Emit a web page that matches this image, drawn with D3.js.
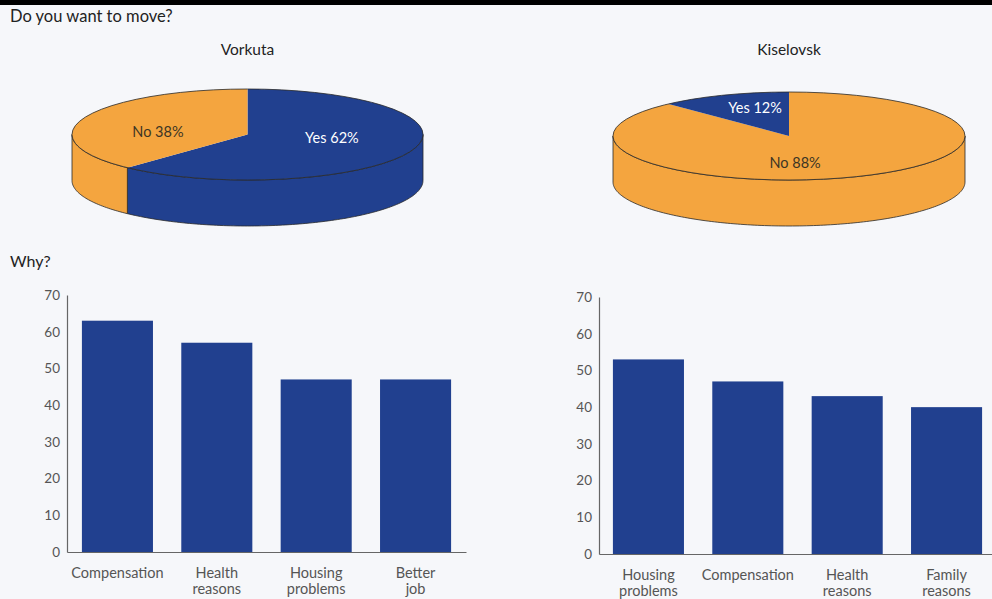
<!DOCTYPE html>
<html>
<head>
<meta charset="utf-8">
<script src="https://cdn.jsdelivr.net/npm/d3@7/dist/d3.min.js"></script>
<style>
  html, body { margin: 0; padding: 0; background: #f6f7fa; }
  svg { display: block; font-family: Lato, "Open Sans", sans-serif; }
</style>
</head>
<body>
<svg id="chart" width="992" height="599"></svg>
<script>
// Survey answers: "Do you want to move?"
const vorkutaAnswers = ["Yes", "No"];
const vorkutaShares = [62, 38];
const kiselovskAnswers = ["No", "Yes"];
const kiselovskShares = [88, 12];

// "Why?" — reasons given, percent
const vorkutaReasons = ["Compensation", "Health reasons", "Housing problems", "Better job"];
const vorkutaReasonValues = [63, 57, 47, 47];
const kiselovskReasons = ["Housing problems", "Compensation", "Health reasons", "Family reasons"];
const kiselovskReasonValues = [53, 47, 43, 40];

const yTicks = [0, 10, 20, 30, 40, 50, 60, 70];

const BLUE = "#21408f";
const ORANGE = "#f4a53f";
const answerColor = { Yes: BLUE, No: ORANGE };
const answerText = { Yes: "#ffffff", No: "#3d3524" };

const svg = d3.select("#chart");

// black rule across the top
svg.append("rect").attr("x", 0).attr("y", 0).attr("width", 992).attr("height", 5).attr("fill", "#000");

svg.append("text").attr("x", 10).attr("y", 22).attr("font-size", 16.5).attr("fill", "#222")
  .text("Do you want to move?");
svg.append("text").attr("x", 10).attr("y", 267).attr("font-size", 16).attr("fill", "#222")
  .text("Why?");

// ---------- 3D pies ----------
function ellipsePoint(p, a, dy) {
  return [p.cx + p.rx * Math.sin(a), p.cy - p.ry * Math.cos(a) + (dy || 0)];
}
function arcPoints(p, a0, a1, dy) {
  const n = Math.max(2, Math.ceil(Math.abs(a1 - a0) / 0.02));
  const pts = [];
  for (let i = 0; i <= n; i++) pts.push(ellipsePoint(p, a0 + (a1 - a0) * i / n, dy));
  return pts;
}
const line = d3.line();

function drawPie(p, answers, shares, title, labelSpots) {
  const g = svg.append("g");
  g.append("text").attr("x", p.cx).attr("y", 55).attr("text-anchor", "middle")
    .attr("font-size", 15.5).attr("fill", "#222").text(title);

  const slices = d3.pie().sort(null).value(d => d.v)(answers.map((k, i) => ({ k, v: shares[i] })));

  // front wall (visible between 90° and 270°, angles clockwise from 12 o'clock)
  slices.forEach(s => {
    const a0 = Math.max(s.startAngle, Math.PI / 2);
    const a1 = Math.min(s.endAngle, Math.PI * 3 / 2);
    if (a1 <= a0) return;
    const top = arcPoints(p, a0, a1, 0);
    const bottom = arcPoints(p, a1, a0, p.depth);
    g.append("path").attr("d", line(top.concat(bottom)) + "Z")
      .attr("fill", answerColor[s.data.k]).attr("stroke", "#2a2a2a").attr("stroke-width", 0.8)
      .attr("stroke-linejoin", "round");
  });

  // top surface
  slices.forEach(s => {
    const pts = [[p.cx, p.cy]].concat(arcPoints(p, s.startAngle, s.endAngle, 0));
    g.append("path").attr("d", line(pts) + "Z")
      .attr("fill", answerColor[s.data.k]);
  });
  // rim outline of the top surface
  g.append("ellipse").attr("cx", p.cx).attr("cy", p.cy).attr("rx", p.rx).attr("ry", p.ry)
    .attr("fill", "none").attr("stroke", "#2a2a2a").attr("stroke-width", 0.8);

  // labels: placed along each slice (t = fraction of its sweep, r = fraction of radius)
  slices.forEach(s => {
    const spot = labelSpots[s.data.k];
    const a = s.startAngle + (s.endAngle - s.startAngle) * spot.t;
    const x = p.cx + p.rx * spot.r * Math.sin(a);
    const y = p.cy - p.ry * spot.r * Math.cos(a);
    g.append("text").attr("x", x).attr("y", y + 5).attr("text-anchor", "middle")
      .attr("font-size", 14.5).attr("fill", answerText[s.data.k])
      .text(`${s.data.k} ${s.data.v}%`);
  });
}

drawPie({ cx: 247.5, cy: 134.5, rx: 175.5, ry: 45.5, depth: 46 },
  vorkutaAnswers, vorkutaShares, "Vorkuta",
  { Yes: { t: 0.444, r: 0.487 }, No: { t: 0.386, r: 0.513 } });
drawPie({ cx: 789, cy: 136, rx: 176, ry: 44, depth: 46 },
  kiselovskAnswers, kiselovskShares, "Kiselovsk",
  { No: { t: 0.558, r: 0.615 }, Yes: { t: 0.61, r: 0.665 } });

// ---------- bar charts ----------
function drawBars(cfg, reasons, values) {
  const g = svg.append("g");
  const x = d3.scaleBand().domain(reasons).range([cfg.x0, cfg.x1])
    .paddingInner(0.285).paddingOuter(cfg.outer);
  const y = d3.scaleLinear().domain([0, 70]).range([cfg.y0, cfg.y1]);

  g.selectAll("rect.bar").data(reasons).join("rect").attr("class", "bar")
    .attr("x", d => x(d)).attr("width", x.bandwidth())
    .attr("y", (d, i) => y(values[i])).attr("height", (d, i) => y(0) - y(values[i]))
    .attr("fill", BLUE);

  const yAxis = g.append("g").attr("transform", `translate(${cfg.x0},0)`)
    .call(d3.axisLeft(y).tickValues(yTicks).tickSize(0).tickPadding(7).tickSizeOuter(0));
  yAxis.select(".domain").attr("stroke", "#666").attr("stroke-width", 1.2);
  yAxis.selectAll("text").attr("font-size", 13.5).attr("fill", "#555")
    .attr("font-family", "Lato, 'Open Sans', sans-serif");

  const xAxis = g.append("g").attr("transform", `translate(0,${cfg.y0})`)
    .call(d3.axisBottom(x).tickSize(0).tickSizeOuter(0).tickFormat(""));
  xAxis.select(".domain").attr("stroke", "#666").attr("stroke-width", 1.2);

  reasons.forEach(r => {
    const words = r.split(" ");
    const t = g.append("text").attr("x", x(r) + x.bandwidth() / 2).attr("y", cfg.y0 + 26)
      .attr("text-anchor", "middle").attr("font-size", 14.5).attr("fill", "#555");
    words.forEach((w, i) => {
      t.append("tspan").attr("x", x(r) + x.bandwidth() / 2).attr("dy", i === 0 ? 0 : 16).text(w);
    });
  });
}

drawBars({ x0: 67, x1: 466, y0: 552, y1: 295, outer: 0.15 }, vorkutaReasons, vorkutaReasonValues);
drawBars({ x0: 599, x1: 996, y0: 554, y1: 297, outer: 0.14 }, kiselovskReasons, kiselovskReasonValues);
</script>
</body>
</html>
